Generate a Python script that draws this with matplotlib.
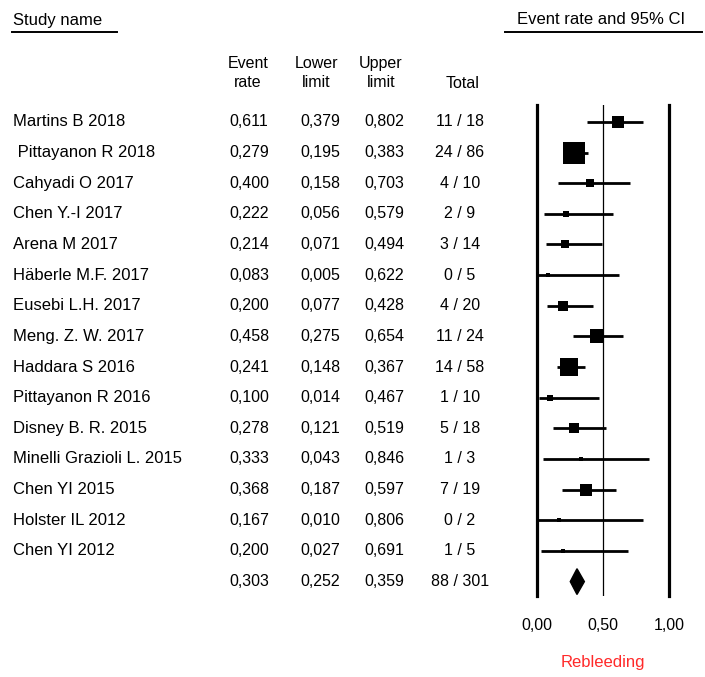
import numpy as np
import matplotlib
matplotlib.use('Agg')
from matplotlib import pyplot as plt
from matplotlib.patches import Polygon
from matplotlib.transforms import blended_transform_factory

plt.rcParams['font.family'] = ['Liberation Sans', 'DejaVu Sans']

studies = ['Martins B 2018', ' Pittayanon R 2018', 'Cahyadi O 2017', 'Chen Y.-I 2017',
           'Arena M 2017', 'Häberle M.F. 2017', 'Eusebi L.H. 2017', 'Meng. Z. W. 2017',
           'Haddara S 2016', 'Pittayanon R 2016', 'Disney B. R. 2015',
           'Minelli Grazioli L. 2015', 'Chen YI 2015', 'Holster IL 2012', 'Chen YI 2012']
rate = [0.611, 0.279, 0.400, 0.222, 0.214, 0.083, 0.200, 0.458, 0.241, 0.100,
        0.278, 0.333, 0.368, 0.167, 0.200]
lower = [0.379, 0.195, 0.158, 0.056, 0.071, 0.005, 0.077, 0.275, 0.148, 0.014,
         0.121, 0.043, 0.187, 0.010, 0.027]
upper = [0.802, 0.383, 0.703, 0.579, 0.494, 0.622, 0.428, 0.654, 0.367, 0.467,
         0.519, 0.846, 0.597, 0.806, 0.691]
events = [11, 24, 4, 2, 3, 0, 4, 11, 14, 1, 5, 1, 7, 0, 1]
totals = [18, 86, 10, 9, 14, 5, 20, 24, 58, 10, 18, 3, 19, 2, 5]

pooled = (0.303, 0.252, 0.359)
pooled_events, pooled_total = 88, 301

W, H = 705, 677
fig = plt.figure(figsize=(W / 100, H / 100), dpi=100)
ax = fig.add_axes([537 / W, (H - 596) / H, 132 / W, 491 / H])

n = len(studies)
ax.set_xlim(0, 1)
ax.set_ylim(n + 0.47, -0.55)

# only the 0 and 1 borders are drawn, as thick verticals
for side in ['top', 'bottom']:
    ax.spines[side].set_visible(False)
for side in ['left', 'right']:
    ax.spines[side].set_linewidth(2.3)
ax.axvline(0.5, color='black', lw=0.9)

fs_txt = 12     # names and headings
fs_num = 11.5   # numeric columns

ax.set_yticks([])
ax.set_xticks([0, 0.5, 1])
ax.set_xticklabels(['0,00', '0,50', '1,00'], fontsize=fs_num)
ax.tick_params(axis='x', length=0, pad=16)
ax.set_xlabel('Rebleeding', color='#ff2a2a', fontsize=fs_txt, labelpad=16)

# box area follows the inverse-variance weight of each study
ev = np.array(events, float)
tot = np.array(totals, float)
zero = ev == 0
e_adj = np.where(zero, ev + 0.5, ev)
t_adj = np.where(zero, tot + 1, tot)
weight = e_adj * (t_adj - e_adj) / t_adj
side_px = 5.5 * np.sqrt(weight)

for i in range(n):
    ax.plot([lower[i], upper[i]], [i, i], color='black', lw=2.0,
            solid_capstyle='butt', zorder=2)
    ax.plot(rate[i], i, marker='s', color='black', ms=side_px[i] * 0.72,
            mew=0, zorder=3)

est, lo, hi = pooled
h = 0.42
ax.add_patch(Polygon([(lo, n), (est, n - h), (hi, n), (est, n + h)],
                     closed=True, color='black', zorder=3))

# left-hand table
tr = blended_transform_factory(fig.transFigure, ax.transData)
fmt = lambda v: f'{v:.3f}'.replace('.', ',')


def table_row(y, a, b, c, total):
    ax.text(249 / W, y, fmt(a), transform=tr, fontsize=fs_num, va='center', ha='center')
    ax.text(320 / W, y, fmt(b), transform=tr, fontsize=fs_num, va='center', ha='center')
    ax.text(384 / W, y, fmt(c), transform=tr, fontsize=fs_num, va='center', ha='center')
    ax.text(460 / W, y, total, transform=tr, fontsize=fs_num, va='center', ha='center')


for i in range(n):
    ax.text(13 / W, i, studies[i], transform=tr, fontsize=fs_txt, va='center', ha='left')
    table_row(i, rate[i], lower[i], upper[i], f'{events[i]} / {totals[i]}')
table_row(n, est, lo, hi, f'{pooled_events} / {pooled_total}')

# column headers
headers = [('Event\nrate', 248), ('Lower\nlimit', 316), ('Upper\nlimit', 381)]
for label, x in headers:
    fig.text(x / W, 1 - 73 / H, label, fontsize=fs_num, ha='center', va='center',
             linespacing=1.4)
fig.text(463 / W, 1 - 84 / H, 'Total', fontsize=fs_num, ha='center', va='center')

fig.text(13 / W, 1 - 20 / H, 'Study name', fontsize=fs_txt, ha='left', va='center')
fig.text(601 / W, 1 - 20 / H, 'Event rate and 95% CI', fontsize=fs_txt, ha='center',
         va='center')
fig.add_artist(plt.Line2D([12 / W, 117 / W], [1 - 32 / H, 1 - 32 / H], color='black',
                          lw=1.4, transform=fig.transFigure))
fig.add_artist(plt.Line2D([505 / W, 702 / W], [1 - 32 / H, 1 - 32 / H], color='black',
                          lw=1.4, transform=fig.transFigure))

plt.savefig('out.png', dpi=100)
